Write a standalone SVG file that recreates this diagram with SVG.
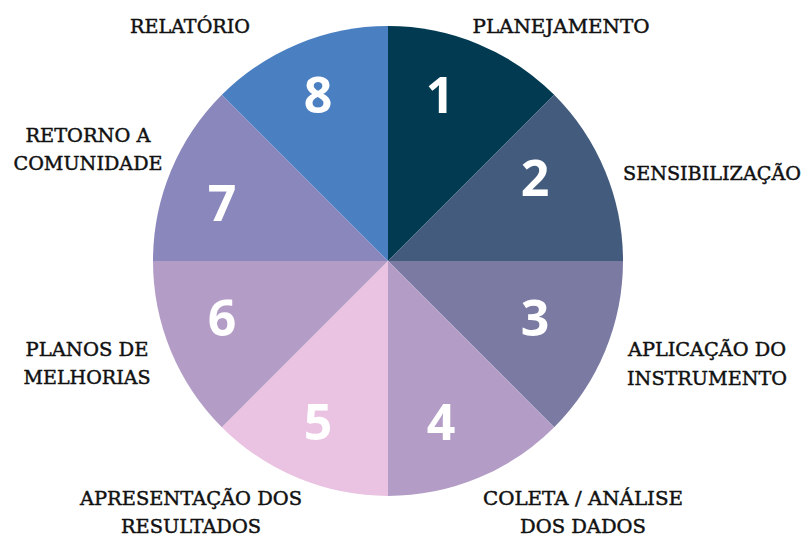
<svg xmlns="http://www.w3.org/2000/svg" width="805" height="536" viewBox="0 0 805 536">
<style>
.lbl{font-family:"DejaVu Serif","Liberation Serif",serif;font-size:19px;fill:#111;stroke:#111;stroke-width:0.45px;text-anchor:middle}
.num{font-family:"Open Sans","Noto Sans",sans-serif;font-weight:bold;font-size:50px;fill:#fff;text-anchor:middle}
</style>
<rect width="805" height="536" fill="#fff"/>
<g id="seg1"><path d="M388,261 L388,26 A235,235 0 0 1 554.17,94.83 Z" fill="#023A52"/><text class="num" x="440" y="113">1</text></g>
<g id="seg2"><path d="M388,261 L554.17,94.83 A235,235 0 0 1 623,261 Z" fill="#435B7C"/><text class="num" x="535" y="196">2</text></g>
<g id="seg3"><path d="M388,261 L623,261 A235,235 0 0 1 554.17,427.17 Z" fill="#7A7AA3"/><text class="num" x="535" y="336">3</text></g>
<g id="seg4"><path d="M388,261 L554.17,427.17 A235,235 0 0 1 388,496 Z" fill="#B39DC6"/><text class="num" x="441" y="440">4</text></g>
<g id="seg5"><path d="M388,261 L388,496 A235,235 0 0 1 221.83,427.17 Z" fill="#EAC2E2"/><text class="num" x="318" y="440">5</text></g>
<g id="seg6"><path d="M388,261 L221.83,427.17 A235,235 0 0 1 153,261 Z" fill="#B39DC6"/><text class="num" x="222" y="336">6</text></g>
<g id="seg7"><path d="M388,261 L153,261 A235,235 0 0 1 221.83,94.83 Z" fill="#8A87BD"/><text class="num" x="222" y="221">7</text></g>
<g id="seg8"><path d="M388,261 L221.83,94.83 A235,235 0 0 1 388,26 Z" fill="#4A7FC1"/><text class="num" x="318" y="113">8</text></g>
<g id="labels">
<text class="lbl" x="190" y="33" textLength="120" lengthAdjust="spacingAndGlyphs">RELATÓRIO</text>
<text class="lbl" x="561" y="33" textLength="177" lengthAdjust="spacingAndGlyphs">PLANEJAMENTO</text>
<text class="lbl" x="712" y="180" textLength="178" lengthAdjust="spacingAndGlyphs">SENSIBILIZAÇÃO</text>
<text class="lbl" x="88" y="142" textLength="125" lengthAdjust="spacingAndGlyphs">RETORNO A</text>
<text class="lbl" x="88" y="170" textLength="149" lengthAdjust="spacingAndGlyphs">COMUNIDADE</text>
<text class="lbl" x="707" y="356" textLength="158" lengthAdjust="spacingAndGlyphs">APLICAÇÃO DO</text>
<text class="lbl" x="707" y="385" textLength="160" lengthAdjust="spacingAndGlyphs">INSTRUMENTO</text>
<text class="lbl" x="583" y="505" textLength="200" lengthAdjust="spacingAndGlyphs">COLETA / ANÁLISE</text>
<text class="lbl" x="583" y="533" textLength="126" lengthAdjust="spacingAndGlyphs">DOS DADOS</text>
<text class="lbl" x="191" y="505" textLength="222" lengthAdjust="spacingAndGlyphs">APRESENTAÇÃO DOS</text>
<text class="lbl" x="191" y="533" textLength="140" lengthAdjust="spacingAndGlyphs">RESULTADOS</text>
<text class="lbl" x="87" y="356" textLength="123" lengthAdjust="spacingAndGlyphs">PLANOS DE</text>
<text class="lbl" x="87" y="384" textLength="127" lengthAdjust="spacingAndGlyphs">MELHORIAS</text>
</g>
</svg>
